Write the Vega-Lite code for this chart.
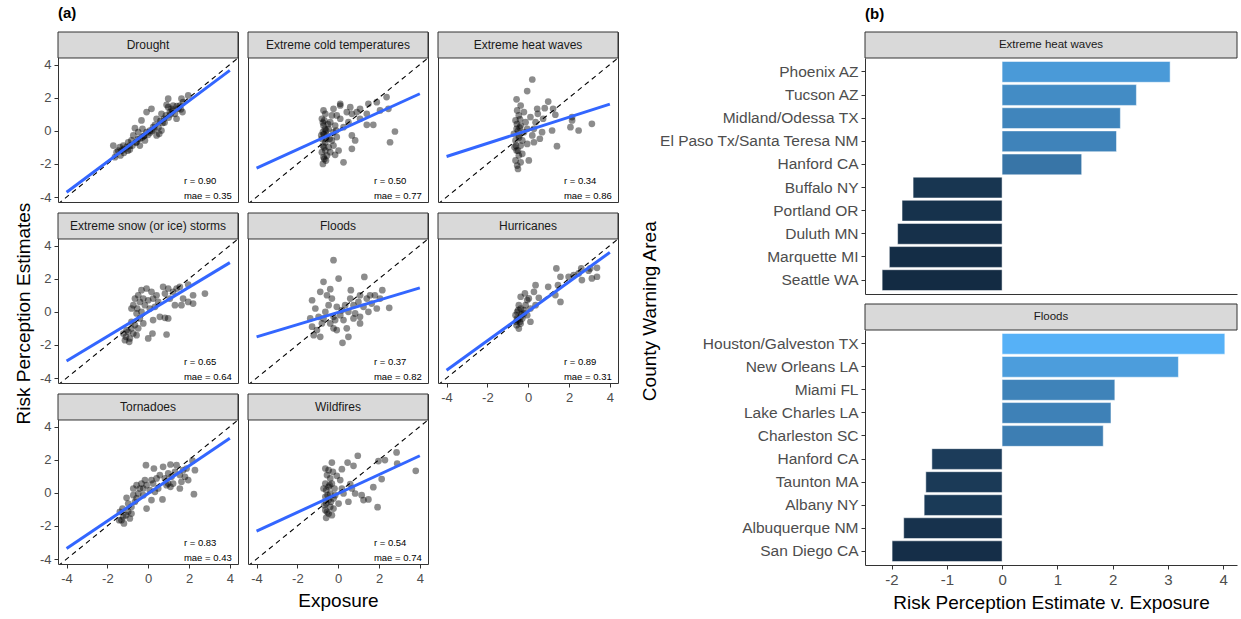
{
"$schema": "https://vega.github.io/schema/vega-lite/v6.json",
"padding": {"left": 13, "top": 6, "right": 0, "bottom": 5},
"config": {
 "font": "Liberation Sans",
 "view": {"stroke": "#333333", "strokeWidth": 1},
 "axis": {"labelFont": "Liberation Sans", "labelFontSize": 13, "labelColor": "#4d4d4d", "tickColor": "#333333", "tickSize": 4, "grid": false, "domain": false, "titleFont": "Liberation Sans", "titleFontSize": 19, "titleFontWeight": "normal", "titleColor": "#000000", "titlePadding": 6},
 "axisX": {"labelPadding": 4},
 "axisY": {"labelPadding": 3},
 "title": {"fontSize": 15, "fontWeight": "bold", "anchor": "start", "frame": "group", "offset": 10, "color": "#000000", "font": "Liberation Sans"}
},
"datasets": {
 "diag": [{"d": -4.42}, {"d": 4.4}],
 "stats": [
  {"p": "Drought", "r": "r = 0.90", "mae": "mae = 0.35"},
  {"p": "Extreme cold temperatures", "r": "r = 0.50", "mae": "mae = 0.77"},
  {"p": "Extreme heat waves", "r": "r = 0.34", "mae": "mae = 0.86"},
  {"p": "Extreme snow (or ice) storms", "r": "r = 0.65", "mae": "mae = 0.64"},
  {"p": "Floods", "r": "r = 0.37", "mae": "mae = 0.82"},
  {"p": "Hurricanes", "r": "r = 0.89", "mae": "mae = 0.31"},
  {"p": "Tornadoes", "r": "r = 0.83", "mae": "mae = 0.43"},
  {"p": "Wildfires", "r": "r = 0.54", "mae": "mae = 0.74"}
 ],
 "fits": [
  {"p": "Drought", "x": -4, "y": -3.71}, {"p": "Drought", "x": 4, "y": 3.65},
  {"p": "Extreme cold temperatures", "x": -4, "y": -2.26}, {"p": "Extreme cold temperatures", "x": 4, "y": 2.24},
  {"p": "Extreme heat waves", "x": -4, "y": -1.55}, {"p": "Extreme heat waves", "x": 4, "y": 1.61},
  {"p": "Extreme snow (or ice) storms", "x": -4, "y": -2.97}, {"p": "Extreme snow (or ice) storms", "x": 4, "y": 2.97},
  {"p": "Floods", "x": -4, "y": -1.51}, {"p": "Floods", "x": 4, "y": 1.45},
  {"p": "Hurricanes", "x": -4, "y": -3.53}, {"p": "Hurricanes", "x": 4, "y": 3.59},
  {"p": "Tornadoes", "x": -4, "y": -3.37}, {"p": "Tornadoes", "x": 4, "y": 3.29},
  {"p": "Wildfires", "x": -4, "y": -2.32}, {"p": "Wildfires", "x": 4, "y": 2.24}
 ],
 "pts": [
  {"p":"Drought","x":-1.71,"y":-0.89},{"p":"Drought","x":-1.63,"y":-1.59},{"p":"Drought","x":-1.36,"y":-1.49},{"p":"Drought","x":-1.47,"y":-1.19},{"p":"Drought","x":-1.19,"y":-1.33},{"p":"Drought","x":-1.06,"y":-0.99},{"p":"Drought","x":-0.9,"y":-1.13},{"p":"Drought","x":-0.77,"y":-0.89},{"p":"Drought","x":-0.65,"y":0.16},{"p":"Drought","x":-0.57,"y":-0.69},{"p":"Drought","x":-0.41,"y":-0.48},{"p":"Drought","x":-0.33,"y":0.63},{"p":"Drought","x":-0.21,"y":-0.32},{"p":"Drought","x":-0.08,"y":-0.08},{"p":"Drought","x":0.0,"y":-0.24},{"p":"Drought","x":0.08,"y":0.02},{"p":"Drought","x":0.24,"y":0.22},{"p":"Drought","x":0.33,"y":0.36},{"p":"Drought","x":0.41,"y":-0.28},{"p":"Drought","x":0.54,"y":-0.18},{"p":"Drought","x":0.65,"y":0.02},{"p":"Drought","x":0.7,"y":0.48},{"p":"Drought","x":0.77,"y":0.73},{"p":"Drought","x":0.87,"y":0.93},{"p":"Drought","x":0.98,"y":1.94},{"p":"Drought","x":0.98,"y":1.43},{"p":"Drought","x":1.06,"y":1.13},{"p":"Drought","x":1.14,"y":1.33},{"p":"Drought","x":1.22,"y":1.53},{"p":"Drought","x":1.31,"y":1.03},{"p":"Drought","x":1.39,"y":0.73},{"p":"Drought","x":1.47,"y":1.33},{"p":"Drought","x":1.55,"y":1.53},{"p":"Drought","x":1.63,"y":1.94},{"p":"Drought","x":1.68,"y":1.13},{"p":"Drought","x":1.71,"y":1.73},{"p":"Drought","x":1.96,"y":2.14},{"p":"Drought","x":-0.08,"y":1.13},{"p":"Drought","x":0.16,"y":1.33},{"p":"Drought","x":-0.73,"y":-0.28},{"p":"Drought","x":-0.49,"y":-0.08},{"p":"Drought","x":-0.28,"y":0.12},{"p":"Drought","x":0.41,"y":0.73},{"p":"Drought","x":0.65,"y":1.03},{"p":"Drought","x":0.9,"y":1.57},{"p":"Drought","x":-0.82,"y":-0.58},{"p":"Drought","x":-0.98,"y":-0.69},{"p":"Drought","x":-1.22,"y":-0.89},{"p":"Drought","x":-1.39,"y":-0.99},{"p":"Drought","x":-1.55,"y":-1.29},{"p":"Drought","x":-0.41,"y":-0.89},{"p":"Drought","x":-0.16,"y":-0.58},{"p":"Drought","x":-1.2,"y":-1.1},{"p":"Drought","x":-1.0,"y":-1.2},{"p":"Drought","x":-0.6,"y":-0.7},{"p":"Drought","x":-0.5,"y":-0.5},{"p":"Drought","x":-0.3,"y":-0.4},{"p":"Drought","x":0.1,"y":-0.1},{"p":"Drought","x":0.2,"y":0.0},{"p":"Drought","x":0.5,"y":0.2},{"p":"Drought","x":0.8,"y":0.5},{"p":"Drought","x":1.0,"y":0.8},{"p":"Drought","x":1.2,"y":1.2},{"p":"Drought","x":1.4,"y":1.5},{"p":"Drought","x":-0.9,"y":-0.9},{"p":"Drought","x":-1.3,"y":-1.2},{"p":"Drought","x":0.6,"y":0.6},{"p":"Drought","x":0.3,"y":0.1},{"p":"Drought","x":-0.2,"y":-0.3},{"p":"Drought","x":1.6,"y":1.3},{"p":"Drought","x":1.1,"y":1.0},
  {"p":"Extreme cold temperatures","x":0.1,"y":1.53},{"p":"Extreme cold temperatures","x":0.59,"y":1.43},{"p":"Extreme cold temperatures","x":0.67,"y":1.03},{"p":"Extreme cold temperatures","x":0.91,"y":1.13},{"p":"Extreme cold temperatures","x":1.07,"y":0.73},{"p":"Extreme cold temperatures","x":1.4,"y":1.03},{"p":"Extreme cold temperatures","x":1.48,"y":1.63},{"p":"Extreme cold temperatures","x":1.89,"y":1.73},{"p":"Extreme cold temperatures","x":2.37,"y":2.04},{"p":"Extreme cold temperatures","x":2.46,"y":1.33},{"p":"Extreme cold temperatures","x":2.05,"y":1.23},{"p":"Extreme cold temperatures","x":1.4,"y":0.36},{"p":"Extreme cold temperatures","x":1.72,"y":0.36},{"p":"Extreme cold temperatures","x":2.78,"y":-0.04},{"p":"Extreme cold temperatures","x":2.54,"y":-0.69},{"p":"Extreme cold temperatures","x":0.67,"y":-0.28},{"p":"Extreme cold temperatures","x":0.83,"y":-0.58},{"p":"Extreme cold temperatures","x":0.67,"y":-1.09},{"p":"Extreme cold temperatures","x":0.02,"y":-1.19},{"p":"Extreme cold temperatures","x":0.26,"y":-1.9},{"p":"Extreme cold temperatures","x":-0.15,"y":-1.45},{"p":"Extreme cold temperatures","x":0.5,"y":0.52},{"p":"Extreme cold temperatures","x":1.07,"y":1.33},{"p":"Extreme cold temperatures","x":0.42,"y":1.13},{"p":"Extreme cold temperatures","x":0.1,"y":1.63},{"p":"Extreme cold temperatures","x":-0.72,"y":1.23},{"p":"Extreme cold temperatures","x":-0.63,"y":1.03},{"p":"Extreme cold temperatures","x":-0.8,"y":0.73},{"p":"Extreme cold temperatures","x":-0.72,"y":0.32},{"p":"Extreme cold temperatures","x":-0.75,"y":-0.08},{"p":"Extreme cold temperatures","x":-0.8,"y":-0.48},{"p":"Extreme cold temperatures","x":-0.75,"y":-0.89},{"p":"Extreme cold temperatures","x":-0.8,"y":-1.29},{"p":"Extreme cold temperatures","x":-0.72,"y":-1.59},{"p":"Extreme cold temperatures","x":-0.75,"y":-2.0},{"p":"Extreme cold temperatures","x":-0.63,"y":-0.69},{"p":"Extreme cold temperatures","x":-0.55,"y":-0.28},{"p":"Extreme cold temperatures","x":-0.47,"y":0.12},{"p":"Extreme cold temperatures","x":-0.39,"y":0.52},{"p":"Extreme cold temperatures","x":-0.31,"y":0.93},{"p":"Extreme cold temperatures","x":-0.23,"y":1.33},{"p":"Extreme cold temperatures","x":-0.07,"y":0.93},{"p":"Extreme cold temperatures","x":-0.15,"y":0.32},{"p":"Extreme cold temperatures","x":-0.23,"y":-0.08},{"p":"Extreme cold temperatures","x":-0.07,"y":-0.38},{"p":"Extreme cold temperatures","x":-0.31,"y":-0.58},{"p":"Extreme cold temperatures","x":-0.47,"y":-0.99},{"p":"Extreme cold temperatures","x":-0.39,"y":-1.29},{"p":"Extreme cold temperatures","x":-0.63,"y":-1.19},{"p":"Extreme cold temperatures","x":-0.55,"y":-1.49},{"p":"Extreme cold temperatures","x":0.1,"y":0.73},{"p":"Extreme cold temperatures","x":0.26,"y":0.22},{"p":"Extreme cold temperatures","x":-0.23,"y":-0.89},{"p":"Extreme cold temperatures","x":-0.68,"y":0.63},{"p":"Extreme cold temperatures","x":-0.59,"y":0.02},{"p":"Extreme cold temperatures","x":-0.83,"y":-0.28},{"p":"Extreme cold temperatures","x":-0.42,"y":-0.48},{"p":"Extreme cold temperatures","x":-0.1,"y":0.02},{"p":"Extreme cold temperatures","x":-0.7,"y":-0.2},{"p":"Extreme cold temperatures","x":-0.65,"y":0.1},{"p":"Extreme cold temperatures","x":-0.6,"y":-0.5},{"p":"Extreme cold temperatures","x":-0.7,"y":-1.0},{"p":"Extreme cold temperatures","x":-0.5,"y":0.4},{"p":"Extreme cold temperatures","x":-0.75,"y":0.5},{"p":"Extreme cold temperatures","x":-0.68,"y":-1.7},{"p":"Extreme cold temperatures","x":-0.6,"y":-1.8},
  {"p":"Extreme heat waves","x":0.2,"y":3.1},{"p":"Extreme heat waves","x":-0.05,"y":2.4},{"p":"Extreme heat waves","x":-0.57,"y":1.9},{"p":"Extreme heat waves","x":0.44,"y":1.33},{"p":"Extreme heat waves","x":0.98,"y":1.77},{"p":"Extreme heat waves","x":0.81,"y":1.37},{"p":"Extreme heat waves","x":1.22,"y":1.33},{"p":"Extreme heat waves","x":1.33,"y":0.97},{"p":"Extreme heat waves","x":0.73,"y":0.73},{"p":"Extreme heat waves","x":0.36,"y":0.52},{"p":"Extreme heat waves","x":0.57,"y":-0.48},{"p":"Extreme heat waves","x":0.28,"y":-0.69},{"p":"Extreme heat waves","x":-0.05,"y":-0.79},{"p":"Extreme heat waves","x":1.41,"y":-0.93},{"p":"Extreme heat waves","x":1.17,"y":0.02},{"p":"Extreme heat waves","x":2.15,"y":0.63},{"p":"Extreme heat waves","x":2.07,"y":0.22},{"p":"Extreme heat waves","x":2.47,"y":0.02},{"p":"Extreme heat waves","x":3.12,"y":0.42},{"p":"Extreme heat waves","x":2.15,"y":0.83},{"p":"Extreme heat waves","x":0.03,"y":-1.79},{"p":"Extreme heat waves","x":-0.5,"y":-2.3},{"p":"Extreme heat waves","x":-0.54,"y":-2.1},{"p":"Extreme heat waves","x":-0.62,"y":-1.79},{"p":"Extreme heat waves","x":-0.46,"y":-1.49},{"p":"Extreme heat waves","x":-0.57,"y":-1.19},{"p":"Extreme heat waves","x":-0.37,"y":-0.89},{"p":"Extreme heat waves","x":-0.62,"y":-0.58},{"p":"Extreme heat waves","x":-0.46,"y":-0.28},{"p":"Extreme heat waves","x":-0.57,"y":0.12},{"p":"Extreme heat waves","x":-0.37,"y":0.32},{"p":"Extreme heat waves","x":-0.62,"y":0.63},{"p":"Extreme heat waves","x":-0.46,"y":0.93},{"p":"Extreme heat waves","x":-0.54,"y":1.23},{"p":"Extreme heat waves","x":-0.37,"y":1.53},{"p":"Extreme heat waves","x":-0.21,"y":1.13},{"p":"Extreme heat waves","x":-0.13,"y":0.52},{"p":"Extreme heat waves","x":-0.21,"y":-0.08},{"p":"Extreme heat waves","x":-0.05,"y":0.12},{"p":"Extreme heat waves","x":0.11,"y":0.83},{"p":"Extreme heat waves","x":0.2,"y":-0.28},{"p":"Extreme heat waves","x":-0.29,"y":-0.58},{"p":"Extreme heat waves","x":-0.7,"y":-0.18},{"p":"Extreme heat waves","x":-0.67,"y":-0.99},{"p":"Extreme heat waves","x":-0.29,"y":-1.39},{"p":"Extreme heat waves","x":-0.37,"y":-1.9},{"p":"Extreme heat waves","x":0.28,"y":0.12},{"p":"Extreme heat waves","x":0.47,"y":1.03},{"p":"Extreme heat waves","x":0.68,"y":-0.08},{"p":"Extreme heat waves","x":-0.5,"y":0.0},{"p":"Extreme heat waves","x":-0.45,"y":-0.4},{"p":"Extreme heat waves","x":-0.55,"y":0.4},{"p":"Extreme heat waves","x":-0.4,"y":0.7},{"p":"Extreme heat waves","x":-0.6,"y":-0.9},{"p":"Extreme heat waves","x":-0.5,"y":-1.2},{"p":"Extreme heat waves","x":-0.42,"y":0.2},
  {"p":"Extreme snow (or ice) storms","x":-0.49,"y":1.0},{"p":"Extreme snow (or ice) storms","x":-0.33,"y":1.31},{"p":"Extreme snow (or ice) storms","x":-0.08,"y":1.41},{"p":"Extreme snow (or ice) storms","x":0.16,"y":1.21},{"p":"Extreme snow (or ice) storms","x":0.24,"y":0.8},{"p":"Extreme snow (or ice) storms","x":0.41,"y":1.0},{"p":"Extreme snow (or ice) storms","x":0.73,"y":1.51},{"p":"Extreme snow (or ice) storms","x":0.98,"y":1.41},{"p":"Extreme snow (or ice) storms","x":1.22,"y":1.21},{"p":"Extreme snow (or ice) storms","x":1.39,"y":1.41},{"p":"Extreme snow (or ice) storms","x":1.31,"y":0.4},{"p":"Extreme snow (or ice) storms","x":1.63,"y":0.4},{"p":"Extreme snow (or ice) storms","x":1.71,"y":0.8},{"p":"Extreme snow (or ice) storms","x":1.96,"y":0.6},{"p":"Extreme snow (or ice) storms","x":2.2,"y":1.0},{"p":"Extreme snow (or ice) storms","x":2.2,"y":0.5},{"p":"Extreme snow (or ice) storms","x":2.78,"y":1.1},{"p":"Extreme snow (or ice) storms","x":1.96,"y":1.65},{"p":"Extreme snow (or ice) storms","x":0.57,"y":-0.3},{"p":"Extreme snow (or ice) storms","x":0.82,"y":-0.36},{"p":"Extreme snow (or ice) storms","x":0.98,"y":-0.4},{"p":"Extreme snow (or ice) storms","x":0.9,"y":-1.37},{"p":"Extreme snow (or ice) storms","x":0.24,"y":-0.5},{"p":"Extreme snow (or ice) storms","x":0.21,"y":-1.31},{"p":"Extreme snow (or ice) storms","x":0.0,"y":-1.61},{"p":"Extreme snow (or ice) storms","x":-0.82,"y":0.2},{"p":"Extreme snow (or ice) storms","x":-0.73,"y":0.4},{"p":"Extreme snow (or ice) storms","x":-0.57,"y":-0.1},{"p":"Extreme snow (or ice) storms","x":-0.41,"y":-0.4},{"p":"Extreme snow (or ice) storms","x":-0.65,"y":-0.8},{"p":"Extreme snow (or ice) storms","x":-0.82,"y":-1.0},{"p":"Extreme snow (or ice) storms","x":-0.98,"y":-1.21},{"p":"Extreme snow (or ice) storms","x":-1.09,"y":-1.51},{"p":"Extreme snow (or ice) storms","x":-1.14,"y":-1.71},{"p":"Extreme snow (or ice) storms","x":-0.9,"y":-1.61},{"p":"Extreme snow (or ice) storms","x":-0.73,"y":-1.31},{"p":"Extreme snow (or ice) storms","x":-0.57,"y":-1.41},{"p":"Extreme snow (or ice) storms","x":-1.06,"y":-1.1},{"p":"Extreme snow (or ice) storms","x":-0.49,"y":-1.0},{"p":"Extreme snow (or ice) storms","x":-0.33,"y":0.0},{"p":"Extreme snow (or ice) storms","x":-0.16,"y":0.4},{"p":"Extreme snow (or ice) storms","x":-0.24,"y":0.8},{"p":"Extreme snow (or ice) storms","x":0.0,"y":0.7},{"p":"Extreme snow (or ice) storms","x":-0.41,"y":0.6},{"p":"Extreme snow (or ice) storms","x":-0.65,"y":0.8},{"p":"Extreme snow (or ice) storms","x":-0.54,"y":0.2},{"p":"Extreme snow (or ice) storms","x":0.08,"y":0.2},{"p":"Extreme snow (or ice) storms","x":0.33,"y":0.3},{"p":"Extreme snow (or ice) storms","x":0.49,"y":0.6},{"p":"Extreme snow (or ice) storms","x":1.55,"y":1.51},{"p":"Extreme snow (or ice) storms","x":0.82,"y":1.1},{"p":"Extreme snow (or ice) storms","x":1.06,"y":0.8},{"p":"Extreme snow (or ice) storms","x":-1.22,"y":-1.31},{"p":"Extreme snow (or ice) storms","x":-0.93,"y":-1.81},{"p":"Extreme snow (or ice) storms","x":-0.82,"y":-0.6},{"p":"Extreme snow (or ice) storms","x":-0.24,"y":-0.7},
  {"p":"Floods","x":-0.23,"y":3.12},{"p":"Floods","x":-0.72,"y":1.81},{"p":"Floods","x":0.02,"y":2.01},{"p":"Floods","x":1.28,"y":2.11},{"p":"Floods","x":-0.39,"y":1.37},{"p":"Floods","x":0.62,"y":1.31},{"p":"Floods","x":0.59,"y":0.8},{"p":"Floods","x":1.07,"y":1.0},{"p":"Floods","x":1.56,"y":1.0},{"p":"Floods","x":2.16,"y":1.31},{"p":"Floods","x":2.5,"y":0.24},{"p":"Floods","x":2.05,"y":0.8},{"p":"Floods","x":1.89,"y":0.2},{"p":"Floods","x":1.48,"y":0.0},{"p":"Floods","x":1.07,"y":-0.7},{"p":"Floods","x":0.42,"y":-1.0},{"p":"Floods","x":0.5,"y":-1.51},{"p":"Floods","x":0.21,"y":-1.87},{"p":"Floods","x":-0.23,"y":-1.0},{"p":"Floods","x":-0.88,"y":-1.51},{"p":"Floods","x":-1.2,"y":-1.41},{"p":"Floods","x":-1.28,"y":0.7},{"p":"Floods","x":-1.12,"y":0.2},{"p":"Floods","x":-1.37,"y":-0.4},{"p":"Floods","x":-1.28,"y":-0.9},{"p":"Floods","x":-0.96,"y":-0.3},{"p":"Floods","x":-0.8,"y":-0.7},{"p":"Floods","x":-0.63,"y":0.0},{"p":"Floods","x":-0.47,"y":0.4},{"p":"Floods","x":-0.31,"y":0.8},{"p":"Floods","x":-0.07,"y":0.3},{"p":"Floods","x":0.1,"y":-0.2},{"p":"Floods","x":0.26,"y":-0.5},{"p":"Floods","x":0.5,"y":0.0},{"p":"Floods","x":0.75,"y":0.4},{"p":"Floods","x":0.99,"y":0.6},{"p":"Floods","x":1.24,"y":0.3},{"p":"Floods","x":1.4,"y":0.8},{"p":"Floods","x":1.64,"y":0.5},{"p":"Floods","x":1.8,"y":1.0},{"p":"Floods","x":-0.88,"y":1.21},{"p":"Floods","x":-0.55,"y":1.0},{"p":"Floods","x":-0.23,"y":-0.3},{"p":"Floods","x":-0.39,"y":-0.7},{"p":"Floods","x":-0.07,"y":-1.1},{"p":"Floods","x":-1.04,"y":-1.1},{"p":"Floods","x":0.75,"y":-0.4},{"p":"Floods","x":0.34,"y":0.4},{"p":"Floods","x":0.18,"y":0.1},{"p":"Floods","x":-0.72,"y":-0.4},{"p":"Floods","x":0.83,"y":-0.1},{"p":"Floods","x":1.07,"y":-0.3},{"p":"Floods","x":-0.15,"y":-0.5},
  {"p":"Hurricanes","x":0.36,"y":1.61},{"p":"Hurricanes","x":0.28,"y":1.21},{"p":"Hurricanes","x":-0.37,"y":0.91},{"p":"Hurricanes","x":-0.16,"y":1.11},{"p":"Hurricanes","x":0.03,"y":0.81},{"p":"Hurricanes","x":0.52,"y":0.85},{"p":"Hurricanes","x":0.98,"y":1.51},{"p":"Hurricanes","x":1.46,"y":1.61},{"p":"Hurricanes","x":1.33,"y":1.01},{"p":"Hurricanes","x":1.58,"y":0.6},{"p":"Hurricanes","x":1.38,"y":2.62},{"p":"Hurricanes","x":1.58,"y":2.12},{"p":"Hurricanes","x":1.98,"y":2.12},{"p":"Hurricanes","x":2.23,"y":2.22},{"p":"Hurricanes","x":2.47,"y":2.32},{"p":"Hurricanes","x":2.6,"y":2.62},{"p":"Hurricanes","x":2.96,"y":2.48},{"p":"Hurricanes","x":3.04,"y":2.62},{"p":"Hurricanes","x":3.37,"y":2.66},{"p":"Hurricanes","x":3.37,"y":2.12},{"p":"Hurricanes","x":3.12,"y":2.02},{"p":"Hurricanes","x":2.63,"y":1.92},{"p":"Hurricanes","x":0.11,"y":-0.6},{"p":"Hurricanes","x":-0.05,"y":-0.2},{"p":"Hurricanes","x":-0.21,"y":0.1},{"p":"Hurricanes","x":-0.46,"y":0.4},{"p":"Hurricanes","x":-0.54,"y":0.0},{"p":"Hurricanes","x":-0.37,"y":-0.3},{"p":"Hurricanes","x":-0.5,"y":-0.5},{"p":"Hurricanes","x":-0.57,"y":-0.81},{"p":"Hurricanes","x":-0.46,"y":-1.01},{"p":"Hurricanes","x":-0.37,"y":-0.71},{"p":"Hurricanes","x":-0.29,"y":-0.4},{"p":"Hurricanes","x":-0.62,"y":-0.2},{"p":"Hurricanes","x":-0.21,"y":-0.1},{"p":"Hurricanes","x":-0.37,"y":0.2},{"p":"Hurricanes","x":-0.13,"y":0.4},{"p":"Hurricanes","x":-0.05,"y":0.71},{"p":"Hurricanes","x":0.11,"y":0.2},{"p":"Hurricanes","x":0.36,"y":0.4},{"p":"Hurricanes","x":-0.54,"y":-0.4},{"p":"Hurricanes","x":-0.41,"y":-0.6},{"p":"Hurricanes","x":-0.59,"y":-0.6},{"p":"Hurricanes","x":-0.33,"y":-0.16},{"p":"Hurricanes","x":-0.49,"y":0.1},
  {"p":"Tornadoes","x":-0.11,"y":1.67},{"p":"Tornadoes","x":0.28,"y":1.47},{"p":"Tornadoes","x":0.73,"y":1.57},{"p":"Tornadoes","x":1.09,"y":1.71},{"p":"Tornadoes","x":1.39,"y":1.67},{"p":"Tornadoes","x":2.17,"y":1.94},{"p":"Tornadoes","x":2.29,"y":1.37},{"p":"Tornadoes","x":1.96,"y":0.77},{"p":"Tornadoes","x":2.24,"y":-0.08},{"p":"Tornadoes","x":1.55,"y":0.26},{"p":"Tornadoes","x":1.09,"y":0.36},{"p":"Tornadoes","x":0.7,"y":-0.4},{"p":"Tornadoes","x":0.16,"y":-0.44},{"p":"Tornadoes","x":-0.08,"y":-0.95},{"p":"Tornadoes","x":-0.57,"y":-0.34},{"p":"Tornadoes","x":-0.73,"y":-0.14},{"p":"Tornadoes","x":-1.06,"y":-0.3},{"p":"Tornadoes","x":-1.26,"y":-0.95},{"p":"Tornadoes","x":-1.39,"y":-1.15},{"p":"Tornadoes","x":-1.22,"y":-1.45},{"p":"Tornadoes","x":-1.19,"y":-1.85},{"p":"Tornadoes","x":-1.42,"y":-1.65},{"p":"Tornadoes","x":-0.98,"y":-1.15},{"p":"Tornadoes","x":-0.9,"y":-1.55},{"p":"Tornadoes","x":-0.82,"y":-0.85},{"p":"Tornadoes","x":-0.65,"y":-0.54},{"p":"Tornadoes","x":-0.41,"y":0.26},{"p":"Tornadoes","x":-0.49,"y":-0.04},{"p":"Tornadoes","x":-0.24,"y":0.26},{"p":"Tornadoes","x":-0.08,"y":0.46},{"p":"Tornadoes","x":0.08,"y":0.16},{"p":"Tornadoes","x":0.24,"y":0.56},{"p":"Tornadoes","x":0.41,"y":0.87},{"p":"Tornadoes","x":0.57,"y":1.07},{"p":"Tornadoes","x":0.82,"y":0.87},{"p":"Tornadoes","x":0.98,"y":1.17},{"p":"Tornadoes","x":1.14,"y":0.97},{"p":"Tornadoes","x":1.31,"y":1.27},{"p":"Tornadoes","x":1.55,"y":1.07},{"p":"Tornadoes","x":1.71,"y":1.37},{"p":"Tornadoes","x":1.88,"y":1.47},{"p":"Tornadoes","x":1.8,"y":0.97},{"p":"Tornadoes","x":1.22,"y":0.56},{"p":"Tornadoes","x":0.9,"y":0.46},{"p":"Tornadoes","x":0.49,"y":0.26},{"p":"Tornadoes","x":0.16,"y":0.77},{"p":"Tornadoes","x":-0.16,"y":0.77},{"p":"Tornadoes","x":-0.33,"y":0.56},{"p":"Tornadoes","x":-0.73,"y":0.26},{"p":"Tornadoes","x":-0.57,"y":0.46},{"p":"Tornadoes","x":-0.98,"y":-0.65},{"p":"Tornadoes","x":-1.31,"y":-1.65},{"p":"Tornadoes","x":-1.09,"y":-1.35},{"p":"Tornadoes","x":-0.82,"y":-1.25},{"p":"Tornadoes","x":-0.24,"y":-0.14},{"p":"Tornadoes","x":0.33,"y":0.06},{"p":"Tornadoes","x":0.98,"y":0.56},{"p":"Tornadoes","x":1.63,"y":0.67},
  {"p":"Wildfires","x":-0.31,"y":1.83},{"p":"Wildfires","x":0.46,"y":1.83},{"p":"Wildfires","x":0.75,"y":1.63},{"p":"Wildfires","x":0.96,"y":2.24},{"p":"Wildfires","x":1.97,"y":1.92},{"p":"Wildfires","x":2.29,"y":1.98},{"p":"Wildfires","x":2.86,"y":2.44},{"p":"Wildfires","x":2.89,"y":1.77},{"p":"Wildfires","x":3.8,"y":1.33},{"p":"Wildfires","x":2.13,"y":0.83},{"p":"Wildfires","x":1.72,"y":0.34},{"p":"Wildfires","x":1.93,"y":-0.87},{"p":"Wildfires","x":1.48,"y":-0.4},{"p":"Wildfires","x":1.15,"y":-0.14},{"p":"Wildfires","x":0.83,"y":-0.04},{"p":"Wildfires","x":1.24,"y":-0.44},{"p":"Wildfires","x":0.5,"y":-0.54},{"p":"Wildfires","x":0.67,"y":0.26},{"p":"Wildfires","x":0.59,"y":0.52},{"p":"Wildfires","x":0.18,"y":0.26},{"p":"Wildfires","x":0.1,"y":0.77},{"p":"Wildfires","x":0.18,"y":1.43},{"p":"Wildfires","x":-0.07,"y":1.03},{"p":"Wildfires","x":0.02,"y":-0.65},{"p":"Wildfires","x":-0.63,"y":1.47},{"p":"Wildfires","x":-0.47,"y":1.37},{"p":"Wildfires","x":-0.55,"y":1.07},{"p":"Wildfires","x":-0.39,"y":0.87},{"p":"Wildfires","x":-0.63,"y":0.56},{"p":"Wildfires","x":-0.47,"y":0.36},{"p":"Wildfires","x":-0.59,"y":0.16},{"p":"Wildfires","x":-0.39,"y":-0.04},{"p":"Wildfires","x":-0.63,"y":-0.24},{"p":"Wildfires","x":-0.47,"y":-0.44},{"p":"Wildfires","x":-0.59,"y":-0.65},{"p":"Wildfires","x":-0.39,"y":-0.85},{"p":"Wildfires","x":-0.63,"y":-1.05},{"p":"Wildfires","x":-0.47,"y":-1.25},{"p":"Wildfires","x":-0.59,"y":-1.51},{"p":"Wildfires","x":-0.31,"y":-1.35},{"p":"Wildfires","x":-0.23,"y":-0.95},{"p":"Wildfires","x":-0.23,"y":-0.34},{"p":"Wildfires","x":-0.18,"y":0.26},{"p":"Wildfires","x":-0.31,"y":0.56},{"p":"Wildfires","x":-0.72,"y":0.26},{"p":"Wildfires","x":-0.68,"y":-0.75},{"p":"Wildfires","x":-0.52,"y":-0.14},{"p":"Wildfires","x":-0.42,"y":0.46},{"p":"Wildfires","x":-0.36,"y":-0.54},{"p":"Wildfires","x":-0.55,"y":-1.15},{"p":"Wildfires","x":-0.26,"y":1.27},{"p":"Wildfires","x":-0.15,"y":-0.14},{"p":"Wildfires","x":0.26,"y":-0.04}
 ],
 "hazards": [{"hazard": "Extreme heat waves"}, {"hazard": "Floods"}],
 "bars": [
  {"hazard": "Extreme heat waves", "cwa": "Phoenix AZ", "value": 3.04},
  {"hazard": "Extreme heat waves", "cwa": "Tucson AZ", "value": 2.43},
  {"hazard": "Extreme heat waves", "cwa": "Midland/Odessa TX", "value": 2.14},
  {"hazard": "Extreme heat waves", "cwa": "El Paso Tx/Santa Teresa NM", "value": 2.07},
  {"hazard": "Extreme heat waves", "cwa": "Hanford CA", "value": 1.44},
  {"hazard": "Extreme heat waves", "cwa": "Buffalo NY", "value": -1.61},
  {"hazard": "Extreme heat waves", "cwa": "Portland OR", "value": -1.81},
  {"hazard": "Extreme heat waves", "cwa": "Duluth MN", "value": -1.89},
  {"hazard": "Extreme heat waves", "cwa": "Marquette MI", "value": -2.04},
  {"hazard": "Extreme heat waves", "cwa": "Seattle WA", "value": -2.17},
  {"hazard": "Floods", "cwa": "Houston/Galveston TX", "value": 4.03},
  {"hazard": "Floods", "cwa": "New Orleans LA", "value": 3.19},
  {"hazard": "Floods", "cwa": "Miami FL", "value": 2.04},
  {"hazard": "Floods", "cwa": "Lake Charles LA", "value": 1.97},
  {"hazard": "Floods", "cwa": "Charleston SC", "value": 1.83},
  {"hazard": "Floods", "cwa": "Hanford CA", "value": -1.27},
  {"hazard": "Floods", "cwa": "Taunton MA", "value": -1.38},
  {"hazard": "Floods", "cwa": "Albany NY", "value": -1.41},
  {"hazard": "Floods", "cwa": "Albuquerque NM", "value": -1.78},
  {"hazard": "Floods", "cwa": "San Diego CA", "value": -1.99}
 ]
},
"spacing": 21,
"hconcat": [
 {
  "title": {"text": "(a)"},
  "columns": 3,
  "spacing": {"row": 11, "column": 10},
  "bounds": "flush",
  "resolve": {"scale": {"x": "independent", "y": "independent"}},
  "concat": [
   {"width": 180, "height": 170, "layer": [
    {"data": {"name": "stats"}, "transform": [{"filter": {"field": "p", "equal": "Drought"}}], "mark": {"type": "rect", "fill": "#d9d9d9", "stroke": "#333333", "strokeWidth": 1}, "encoding": {"x": {"datum": -4.42, "axis": null}, "x2": {"datum": 4.4}, "y": {"datum": 4.4, "axis": {"values": [-4, -2, 0, 2, 4], "title": null, "labelExpr": "toString(datum.value)"}}, "y2": {"datum": 5.97}}},
    {"data": {"name": "stats"}, "transform": [{"filter": {"field": "p", "equal": "Drought"}}], "mark": {"type": "text", "fontSize": 12, "color": "#1a1a1a"}, "encoding": {"x": {"datum": -0.01, "axis": null}, "y": {"datum": 5.19, "axis": {"values": [-4, -2, 0, 2, 4], "title": null, "labelExpr": "toString(datum.value)"}}, "text": {"field": "p"}}},
    {"data": {"name": "pts"}, "transform": [{"filter": {"field": "p", "equal": "Drought"}}], "mark": {"type": "circle", "size": 45, "color": "#000000", "opacity": 0.45}, "encoding": {"x": {"field": "x", "type": "quantitative", "scale": {"domain": [-4.42, 4.4], "nice": false, "zero": false}, "axis": null}, "y": {"field": "y", "type": "quantitative", "scale": {"domain": [-4.3, 5.97], "nice": false, "zero": false}, "axis": {"values": [-4, -2, 0, 2, 4], "title": null, "labelExpr": "toString(datum.value)"}}}},
    {"data": {"name": "diag"}, "mark": {"type": "line", "color": "#000000", "strokeDash": [5, 4], "strokeWidth": 1.1, "clip": true}, "encoding": {"x": {"field": "d", "type": "quantitative", "axis": null}, "y": {"field": "d", "type": "quantitative", "axis": {"values": [-4, -2, 0, 2, 4], "title": null, "labelExpr": "toString(datum.value)"}}}},
    {"data": {"name": "fits"}, "transform": [{"filter": {"field": "p", "equal": "Drought"}}], "mark": {"type": "line", "color": "#3366FF", "strokeWidth": 3}, "encoding": {"x": {"field": "x", "type": "quantitative", "axis": null}, "y": {"field": "y", "type": "quantitative", "axis": {"values": [-4, -2, 0, 2, 4], "title": null, "labelExpr": "toString(datum.value)"}}}},
    {"data": {"name": "stats"}, "transform": [{"filter": {"field": "p", "equal": "Drought"}}], "mark": {"type": "text", "fontSize": 9.5, "align": "left", "color": "#000000"}, "encoding": {"x": {"datum": 1.75, "axis": null}, "y": {"datum": -3.06, "axis": {"values": [-4, -2, 0, 2, 4], "title": null, "labelExpr": "toString(datum.value)"}}, "text": {"field": "r"}}},
    {"data": {"name": "stats"}, "transform": [{"filter": {"field": "p", "equal": "Drought"}}], "mark": {"type": "text", "fontSize": 9.5, "align": "left", "color": "#000000"}, "encoding": {"x": {"datum": 1.75, "axis": null}, "y": {"datum": -3.91, "axis": {"values": [-4, -2, 0, 2, 4], "title": null, "labelExpr": "toString(datum.value)"}}, "text": {"field": "mae"}}}
   ]},
   {"width": 180, "height": 170, "layer": [
    {"data": {"name": "stats"}, "transform": [{"filter": {"field": "p", "equal": "Extreme cold temperatures"}}], "mark": {"type": "rect", "fill": "#d9d9d9", "stroke": "#333333", "strokeWidth": 1}, "encoding": {"x": {"datum": -4.42, "axis": null}, "x2": {"datum": 4.4}, "y": {"datum": 4.4, "axis": null}, "y2": {"datum": 5.97}}},
    {"data": {"name": "stats"}, "transform": [{"filter": {"field": "p", "equal": "Extreme cold temperatures"}}], "mark": {"type": "text", "fontSize": 12, "color": "#1a1a1a"}, "encoding": {"x": {"datum": -0.01, "axis": null}, "y": {"datum": 5.19, "axis": null}, "text": {"field": "p"}}},
    {"data": {"name": "pts"}, "transform": [{"filter": {"field": "p", "equal": "Extreme cold temperatures"}}], "mark": {"type": "circle", "size": 45, "color": "#000000", "opacity": 0.45}, "encoding": {"x": {"field": "x", "type": "quantitative", "scale": {"domain": [-4.42, 4.4], "nice": false, "zero": false}, "axis": null}, "y": {"field": "y", "type": "quantitative", "scale": {"domain": [-4.3, 5.97], "nice": false, "zero": false}, "axis": null}}},
    {"data": {"name": "diag"}, "mark": {"type": "line", "color": "#000000", "strokeDash": [5, 4], "strokeWidth": 1.1, "clip": true}, "encoding": {"x": {"field": "d", "type": "quantitative", "axis": null}, "y": {"field": "d", "type": "quantitative", "axis": null}}},
    {"data": {"name": "fits"}, "transform": [{"filter": {"field": "p", "equal": "Extreme cold temperatures"}}], "mark": {"type": "line", "color": "#3366FF", "strokeWidth": 3}, "encoding": {"x": {"field": "x", "type": "quantitative", "axis": null}, "y": {"field": "y", "type": "quantitative", "axis": null}}},
    {"data": {"name": "stats"}, "transform": [{"filter": {"field": "p", "equal": "Extreme cold temperatures"}}], "mark": {"type": "text", "fontSize": 9.5, "align": "left", "color": "#000000"}, "encoding": {"x": {"datum": 1.75, "axis": null}, "y": {"datum": -3.06, "axis": null}, "text": {"field": "r"}}},
    {"data": {"name": "stats"}, "transform": [{"filter": {"field": "p", "equal": "Extreme cold temperatures"}}], "mark": {"type": "text", "fontSize": 9.5, "align": "left", "color": "#000000"}, "encoding": {"x": {"datum": 1.75, "axis": null}, "y": {"datum": -3.91, "axis": null}, "text": {"field": "mae"}}}
   ]},
   {"width": 180, "height": 170, "layer": [
    {"data": {"name": "stats"}, "transform": [{"filter": {"field": "p", "equal": "Extreme heat waves"}}], "mark": {"type": "rect", "fill": "#d9d9d9", "stroke": "#333333", "strokeWidth": 1}, "encoding": {"x": {"datum": -4.42, "axis": null}, "x2": {"datum": 4.4}, "y": {"datum": 4.4, "axis": null}, "y2": {"datum": 5.97}}},
    {"data": {"name": "stats"}, "transform": [{"filter": {"field": "p", "equal": "Extreme heat waves"}}], "mark": {"type": "text", "fontSize": 12, "color": "#1a1a1a"}, "encoding": {"x": {"datum": -0.01, "axis": null}, "y": {"datum": 5.19, "axis": null}, "text": {"field": "p"}}},
    {"data": {"name": "pts"}, "transform": [{"filter": {"field": "p", "equal": "Extreme heat waves"}}], "mark": {"type": "circle", "size": 45, "color": "#000000", "opacity": 0.45}, "encoding": {"x": {"field": "x", "type": "quantitative", "scale": {"domain": [-4.42, 4.4], "nice": false, "zero": false}, "axis": null}, "y": {"field": "y", "type": "quantitative", "scale": {"domain": [-4.3, 5.97], "nice": false, "zero": false}, "axis": null}}},
    {"data": {"name": "diag"}, "mark": {"type": "line", "color": "#000000", "strokeDash": [5, 4], "strokeWidth": 1.1, "clip": true}, "encoding": {"x": {"field": "d", "type": "quantitative", "axis": null}, "y": {"field": "d", "type": "quantitative", "axis": null}}},
    {"data": {"name": "fits"}, "transform": [{"filter": {"field": "p", "equal": "Extreme heat waves"}}], "mark": {"type": "line", "color": "#3366FF", "strokeWidth": 3}, "encoding": {"x": {"field": "x", "type": "quantitative", "axis": null}, "y": {"field": "y", "type": "quantitative", "axis": null}}},
    {"data": {"name": "stats"}, "transform": [{"filter": {"field": "p", "equal": "Extreme heat waves"}}], "mark": {"type": "text", "fontSize": 9.5, "align": "left", "color": "#000000"}, "encoding": {"x": {"datum": 1.75, "axis": null}, "y": {"datum": -3.06, "axis": null}, "text": {"field": "r"}}},
    {"data": {"name": "stats"}, "transform": [{"filter": {"field": "p", "equal": "Extreme heat waves"}}], "mark": {"type": "text", "fontSize": 9.5, "align": "left", "color": "#000000"}, "encoding": {"x": {"datum": 1.75, "axis": null}, "y": {"datum": -3.91, "axis": null}, "text": {"field": "mae"}}}
   ]},
   {"width": 180, "height": 170, "layer": [
    {"data": {"name": "stats"}, "transform": [{"filter": {"field": "p", "equal": "Extreme snow (or ice) storms"}}], "mark": {"type": "rect", "fill": "#d9d9d9", "stroke": "#333333", "strokeWidth": 1}, "encoding": {"x": {"datum": -4.42, "axis": null}, "x2": {"datum": 4.4}, "y": {"datum": 4.4, "axis": {"values": [-4, -2, 0, 2, 4], "title": "Risk Perception Estimates", "titleY": 100, "labelExpr": "toString(datum.value)"}}, "y2": {"datum": 5.97}}},
    {"data": {"name": "stats"}, "transform": [{"filter": {"field": "p", "equal": "Extreme snow (or ice) storms"}}], "mark": {"type": "text", "fontSize": 12, "color": "#1a1a1a"}, "encoding": {"x": {"datum": -0.01, "axis": null}, "y": {"datum": 5.19, "axis": {"values": [-4, -2, 0, 2, 4], "title": "Risk Perception Estimates", "titleY": 100, "labelExpr": "toString(datum.value)"}}, "text": {"field": "p"}}},
    {"data": {"name": "pts"}, "transform": [{"filter": {"field": "p", "equal": "Extreme snow (or ice) storms"}}], "mark": {"type": "circle", "size": 45, "color": "#000000", "opacity": 0.45}, "encoding": {"x": {"field": "x", "type": "quantitative", "scale": {"domain": [-4.42, 4.4], "nice": false, "zero": false}, "axis": null}, "y": {"field": "y", "type": "quantitative", "scale": {"domain": [-4.3, 5.97], "nice": false, "zero": false}, "axis": {"values": [-4, -2, 0, 2, 4], "title": "Risk Perception Estimates", "titleY": 100, "labelExpr": "toString(datum.value)"}}}},
    {"data": {"name": "diag"}, "mark": {"type": "line", "color": "#000000", "strokeDash": [5, 4], "strokeWidth": 1.1, "clip": true}, "encoding": {"x": {"field": "d", "type": "quantitative", "axis": null}, "y": {"field": "d", "type": "quantitative", "axis": {"values": [-4, -2, 0, 2, 4], "title": "Risk Perception Estimates", "titleY": 100, "labelExpr": "toString(datum.value)"}}}},
    {"data": {"name": "fits"}, "transform": [{"filter": {"field": "p", "equal": "Extreme snow (or ice) storms"}}], "mark": {"type": "line", "color": "#3366FF", "strokeWidth": 3}, "encoding": {"x": {"field": "x", "type": "quantitative", "axis": null}, "y": {"field": "y", "type": "quantitative", "axis": {"values": [-4, -2, 0, 2, 4], "title": "Risk Perception Estimates", "titleY": 100, "labelExpr": "toString(datum.value)"}}}},
    {"data": {"name": "stats"}, "transform": [{"filter": {"field": "p", "equal": "Extreme snow (or ice) storms"}}], "mark": {"type": "text", "fontSize": 9.5, "align": "left", "color": "#000000"}, "encoding": {"x": {"datum": 1.75, "axis": null}, "y": {"datum": -3.06, "axis": {"values": [-4, -2, 0, 2, 4], "title": "Risk Perception Estimates", "titleY": 100, "labelExpr": "toString(datum.value)"}}, "text": {"field": "r"}}},
    {"data": {"name": "stats"}, "transform": [{"filter": {"field": "p", "equal": "Extreme snow (or ice) storms"}}], "mark": {"type": "text", "fontSize": 9.5, "align": "left", "color": "#000000"}, "encoding": {"x": {"datum": 1.75, "axis": null}, "y": {"datum": -3.91, "axis": {"values": [-4, -2, 0, 2, 4], "title": "Risk Perception Estimates", "titleY": 100, "labelExpr": "toString(datum.value)"}}, "text": {"field": "mae"}}}
   ]},
   {"width": 180, "height": 170, "layer": [
    {"data": {"name": "stats"}, "transform": [{"filter": {"field": "p", "equal": "Floods"}}], "mark": {"type": "rect", "fill": "#d9d9d9", "stroke": "#333333", "strokeWidth": 1}, "encoding": {"x": {"datum": -4.42, "axis": null}, "x2": {"datum": 4.4}, "y": {"datum": 4.4, "axis": null}, "y2": {"datum": 5.97}}},
    {"data": {"name": "stats"}, "transform": [{"filter": {"field": "p", "equal": "Floods"}}], "mark": {"type": "text", "fontSize": 12, "color": "#1a1a1a"}, "encoding": {"x": {"datum": -0.01, "axis": null}, "y": {"datum": 5.19, "axis": null}, "text": {"field": "p"}}},
    {"data": {"name": "pts"}, "transform": [{"filter": {"field": "p", "equal": "Floods"}}], "mark": {"type": "circle", "size": 45, "color": "#000000", "opacity": 0.45}, "encoding": {"x": {"field": "x", "type": "quantitative", "scale": {"domain": [-4.42, 4.4], "nice": false, "zero": false}, "axis": null}, "y": {"field": "y", "type": "quantitative", "scale": {"domain": [-4.3, 5.97], "nice": false, "zero": false}, "axis": null}}},
    {"data": {"name": "diag"}, "mark": {"type": "line", "color": "#000000", "strokeDash": [5, 4], "strokeWidth": 1.1, "clip": true}, "encoding": {"x": {"field": "d", "type": "quantitative", "axis": null}, "y": {"field": "d", "type": "quantitative", "axis": null}}},
    {"data": {"name": "fits"}, "transform": [{"filter": {"field": "p", "equal": "Floods"}}], "mark": {"type": "line", "color": "#3366FF", "strokeWidth": 3}, "encoding": {"x": {"field": "x", "type": "quantitative", "axis": null}, "y": {"field": "y", "type": "quantitative", "axis": null}}},
    {"data": {"name": "stats"}, "transform": [{"filter": {"field": "p", "equal": "Floods"}}], "mark": {"type": "text", "fontSize": 9.5, "align": "left", "color": "#000000"}, "encoding": {"x": {"datum": 1.75, "axis": null}, "y": {"datum": -3.06, "axis": null}, "text": {"field": "r"}}},
    {"data": {"name": "stats"}, "transform": [{"filter": {"field": "p", "equal": "Floods"}}], "mark": {"type": "text", "fontSize": 9.5, "align": "left", "color": "#000000"}, "encoding": {"x": {"datum": 1.75, "axis": null}, "y": {"datum": -3.91, "axis": null}, "text": {"field": "mae"}}}
   ]},
   {"width": 180, "height": 170, "layer": [
    {"data": {"name": "stats"}, "transform": [{"filter": {"field": "p", "equal": "Hurricanes"}}], "mark": {"type": "rect", "fill": "#d9d9d9", "stroke": "#333333", "strokeWidth": 1}, "encoding": {"x": {"datum": -4.42, "axis": {"values": [-4, -2, 0, 2, 4], "title": null, "labelExpr": "toString(datum.value)"}}, "x2": {"datum": 4.4}, "y": {"datum": 4.4, "axis": null}, "y2": {"datum": 5.97}}},
    {"data": {"name": "stats"}, "transform": [{"filter": {"field": "p", "equal": "Hurricanes"}}], "mark": {"type": "text", "fontSize": 12, "color": "#1a1a1a"}, "encoding": {"x": {"datum": -0.01, "axis": {"values": [-4, -2, 0, 2, 4], "title": null, "labelExpr": "toString(datum.value)"}}, "y": {"datum": 5.19, "axis": null}, "text": {"field": "p"}}},
    {"data": {"name": "pts"}, "transform": [{"filter": {"field": "p", "equal": "Hurricanes"}}], "mark": {"type": "circle", "size": 45, "color": "#000000", "opacity": 0.45}, "encoding": {"x": {"field": "x", "type": "quantitative", "scale": {"domain": [-4.42, 4.4], "nice": false, "zero": false}, "axis": {"values": [-4, -2, 0, 2, 4], "title": null, "labelExpr": "toString(datum.value)"}}, "y": {"field": "y", "type": "quantitative", "scale": {"domain": [-4.3, 5.97], "nice": false, "zero": false}, "axis": null}}},
    {"data": {"name": "diag"}, "mark": {"type": "line", "color": "#000000", "strokeDash": [5, 4], "strokeWidth": 1.1, "clip": true}, "encoding": {"x": {"field": "d", "type": "quantitative", "axis": {"values": [-4, -2, 0, 2, 4], "title": null, "labelExpr": "toString(datum.value)"}}, "y": {"field": "d", "type": "quantitative", "axis": null}}},
    {"data": {"name": "fits"}, "transform": [{"filter": {"field": "p", "equal": "Hurricanes"}}], "mark": {"type": "line", "color": "#3366FF", "strokeWidth": 3}, "encoding": {"x": {"field": "x", "type": "quantitative", "axis": {"values": [-4, -2, 0, 2, 4], "title": null, "labelExpr": "toString(datum.value)"}}, "y": {"field": "y", "type": "quantitative", "axis": null}}},
    {"data": {"name": "stats"}, "transform": [{"filter": {"field": "p", "equal": "Hurricanes"}}], "mark": {"type": "text", "fontSize": 9.5, "align": "left", "color": "#000000"}, "encoding": {"x": {"datum": 1.75, "axis": {"values": [-4, -2, 0, 2, 4], "title": null, "labelExpr": "toString(datum.value)"}}, "y": {"datum": -3.06, "axis": null}, "text": {"field": "r"}}},
    {"data": {"name": "stats"}, "transform": [{"filter": {"field": "p", "equal": "Hurricanes"}}], "mark": {"type": "text", "fontSize": 9.5, "align": "left", "color": "#000000"}, "encoding": {"x": {"datum": 1.75, "axis": {"values": [-4, -2, 0, 2, 4], "title": null, "labelExpr": "toString(datum.value)"}}, "y": {"datum": -3.91, "axis": null}, "text": {"field": "mae"}}}
   ]},
   {"width": 180, "height": 170, "layer": [
    {"data": {"name": "stats"}, "transform": [{"filter": {"field": "p", "equal": "Tornadoes"}}], "mark": {"type": "rect", "fill": "#d9d9d9", "stroke": "#333333", "strokeWidth": 1}, "encoding": {"x": {"datum": -4.42, "axis": {"values": [-4, -2, 0, 2, 4], "title": null, "labelExpr": "toString(datum.value)"}}, "x2": {"datum": 4.4}, "y": {"datum": 4.4, "axis": {"values": [-4, -2, 0, 2, 4], "title": null, "labelExpr": "toString(datum.value)"}}, "y2": {"datum": 5.97}}},
    {"data": {"name": "stats"}, "transform": [{"filter": {"field": "p", "equal": "Tornadoes"}}], "mark": {"type": "text", "fontSize": 12, "color": "#1a1a1a"}, "encoding": {"x": {"datum": -0.01, "axis": {"values": [-4, -2, 0, 2, 4], "title": null, "labelExpr": "toString(datum.value)"}}, "y": {"datum": 5.19, "axis": {"values": [-4, -2, 0, 2, 4], "title": null, "labelExpr": "toString(datum.value)"}}, "text": {"field": "p"}}},
    {"data": {"name": "pts"}, "transform": [{"filter": {"field": "p", "equal": "Tornadoes"}}], "mark": {"type": "circle", "size": 45, "color": "#000000", "opacity": 0.45}, "encoding": {"x": {"field": "x", "type": "quantitative", "scale": {"domain": [-4.42, 4.4], "nice": false, "zero": false}, "axis": {"values": [-4, -2, 0, 2, 4], "title": null, "labelExpr": "toString(datum.value)"}}, "y": {"field": "y", "type": "quantitative", "scale": {"domain": [-4.3, 5.97], "nice": false, "zero": false}, "axis": {"values": [-4, -2, 0, 2, 4], "title": null, "labelExpr": "toString(datum.value)"}}}},
    {"data": {"name": "diag"}, "mark": {"type": "line", "color": "#000000", "strokeDash": [5, 4], "strokeWidth": 1.1, "clip": true}, "encoding": {"x": {"field": "d", "type": "quantitative", "axis": {"values": [-4, -2, 0, 2, 4], "title": null, "labelExpr": "toString(datum.value)"}}, "y": {"field": "d", "type": "quantitative", "axis": {"values": [-4, -2, 0, 2, 4], "title": null, "labelExpr": "toString(datum.value)"}}}},
    {"data": {"name": "fits"}, "transform": [{"filter": {"field": "p", "equal": "Tornadoes"}}], "mark": {"type": "line", "color": "#3366FF", "strokeWidth": 3}, "encoding": {"x": {"field": "x", "type": "quantitative", "axis": {"values": [-4, -2, 0, 2, 4], "title": null, "labelExpr": "toString(datum.value)"}}, "y": {"field": "y", "type": "quantitative", "axis": {"values": [-4, -2, 0, 2, 4], "title": null, "labelExpr": "toString(datum.value)"}}}},
    {"data": {"name": "stats"}, "transform": [{"filter": {"field": "p", "equal": "Tornadoes"}}], "mark": {"type": "text", "fontSize": 9.5, "align": "left", "color": "#000000"}, "encoding": {"x": {"datum": 1.75, "axis": {"values": [-4, -2, 0, 2, 4], "title": null, "labelExpr": "toString(datum.value)"}}, "y": {"datum": -3.06, "axis": {"values": [-4, -2, 0, 2, 4], "title": null, "labelExpr": "toString(datum.value)"}}, "text": {"field": "r"}}},
    {"data": {"name": "stats"}, "transform": [{"filter": {"field": "p", "equal": "Tornadoes"}}], "mark": {"type": "text", "fontSize": 9.5, "align": "left", "color": "#000000"}, "encoding": {"x": {"datum": 1.75, "axis": {"values": [-4, -2, 0, 2, 4], "title": null, "labelExpr": "toString(datum.value)"}}, "y": {"datum": -3.91, "axis": {"values": [-4, -2, 0, 2, 4], "title": null, "labelExpr": "toString(datum.value)"}}, "text": {"field": "mae"}}}
   ]},
   {"width": 180, "height": 170, "layer": [
    {"data": {"name": "stats"}, "transform": [{"filter": {"field": "p", "equal": "Wildfires"}}], "mark": {"type": "rect", "fill": "#d9d9d9", "stroke": "#333333", "strokeWidth": 1}, "encoding": {"x": {"datum": -4.42, "axis": {"values": [-4, -2, 0, 2, 4], "title": "Exposure", "labelExpr": "toString(datum.value)"}}, "x2": {"datum": 4.4}, "y": {"datum": 4.4, "axis": null}, "y2": {"datum": 5.97}}},
    {"data": {"name": "stats"}, "transform": [{"filter": {"field": "p", "equal": "Wildfires"}}], "mark": {"type": "text", "fontSize": 12, "color": "#1a1a1a"}, "encoding": {"x": {"datum": -0.01, "axis": {"values": [-4, -2, 0, 2, 4], "title": "Exposure", "labelExpr": "toString(datum.value)"}}, "y": {"datum": 5.19, "axis": null}, "text": {"field": "p"}}},
    {"data": {"name": "pts"}, "transform": [{"filter": {"field": "p", "equal": "Wildfires"}}], "mark": {"type": "circle", "size": 45, "color": "#000000", "opacity": 0.45}, "encoding": {"x": {"field": "x", "type": "quantitative", "scale": {"domain": [-4.42, 4.4], "nice": false, "zero": false}, "axis": {"values": [-4, -2, 0, 2, 4], "title": "Exposure", "labelExpr": "toString(datum.value)"}}, "y": {"field": "y", "type": "quantitative", "scale": {"domain": [-4.3, 5.97], "nice": false, "zero": false}, "axis": null}}},
    {"data": {"name": "diag"}, "mark": {"type": "line", "color": "#000000", "strokeDash": [5, 4], "strokeWidth": 1.1, "clip": true}, "encoding": {"x": {"field": "d", "type": "quantitative", "axis": {"values": [-4, -2, 0, 2, 4], "title": "Exposure", "labelExpr": "toString(datum.value)"}}, "y": {"field": "d", "type": "quantitative", "axis": null}}},
    {"data": {"name": "fits"}, "transform": [{"filter": {"field": "p", "equal": "Wildfires"}}], "mark": {"type": "line", "color": "#3366FF", "strokeWidth": 3}, "encoding": {"x": {"field": "x", "type": "quantitative", "axis": {"values": [-4, -2, 0, 2, 4], "title": "Exposure", "labelExpr": "toString(datum.value)"}}, "y": {"field": "y", "type": "quantitative", "axis": null}}},
    {"data": {"name": "stats"}, "transform": [{"filter": {"field": "p", "equal": "Wildfires"}}], "mark": {"type": "text", "fontSize": 9.5, "align": "left", "color": "#000000"}, "encoding": {"x": {"datum": 1.75, "axis": {"values": [-4, -2, 0, 2, 4], "title": "Exposure", "labelExpr": "toString(datum.value)"}}, "y": {"datum": -3.06, "axis": null}, "text": {"field": "r"}}},
    {"data": {"name": "stats"}, "transform": [{"filter": {"field": "p", "equal": "Wildfires"}}], "mark": {"type": "text", "fontSize": 9.5, "align": "left", "color": "#000000"}, "encoding": {"x": {"datum": 1.75, "axis": {"values": [-4, -2, 0, 2, 4], "title": "Exposure", "labelExpr": "toString(datum.value)"}}, "y": {"datum": -3.91, "axis": null}, "text": {"field": "mae"}}}
   ]}
  ]
 },
 {
  "title": {"text": "(b)"},
  "spacing": 0,
  "bounds": "flush",
  "resolve": {"scale": {"x": "independent", "y": "independent"}},
  "vconcat": [
   {"width": 372, "height": 26, "data": {"name": "hazards"}, "transform": [{"filter": {"field": "hazard", "equal": "Extreme heat waves"}}], "view": {"stroke": null},
    "layer": [
     {"mark": {"type": "rect", "fill": "#d9d9d9", "stroke": "#333333", "strokeWidth": 1}, "encoding": {"y": {"datum": 0, "type": "quantitative", "scale": {"domain": [0, 26], "nice": false, "zero": false}, "axis": null}, "y2": {"datum": 26}}},
     {"mark": {"type": "text", "fontSize": 11.5, "color": "#1a1a1a"}, "encoding": {"y": {"datum": 13, "axis": null}, "text": {"field": "hazard"}}}
    ]},
   {"width": 372, "height": 236, "data": {"name": "bars"}, "transform": [{"filter": {"field": "hazard", "equal": "Extreme heat waves"}}], "view": {"stroke": null},
    "mark": {"type": "bar", "stroke": "#ffffff", "strokeWidth": 0.5},
    "encoding": {
     "y": {"field": "cwa", "type": "nominal", "sort": "-x", "scale": {"paddingInner": 0.1, "paddingOuter": 0.15}, "axis": {"title": "County Warning Area", "titleY": 252.7, "titlePadding": 6, "domain": true, "domainColor": "#333333", "labelFontSize": 15.5, "labelPadding": 3, "labelLimit": 320}},
     "x": {"field": "value", "type": "quantitative", "scale": {"domain": [-2.48, 4.25], "nice": false, "zero": false}, "axis": {"labels": false, "ticks": false, "domain": true, "domainColor": "#333333", "title": null}},
     "x2": {"datum": 0},
     "color": {"field": "value", "type": "quantitative", "scale": {"domain": [-2.17, 4.03], "range": ["#132B43", "#56B1F7"], "interpolate": "lab"}, "legend": null}
    }},
   {"width": 372, "height": 36, "data": {"name": "hazards"}, "transform": [{"filter": {"field": "hazard", "equal": "Floods"}}], "view": {"stroke": null},
    "layer": [
     {"mark": {"type": "rect", "fill": "#d9d9d9", "stroke": "#333333", "strokeWidth": 1}, "encoding": {"y": {"datum": 0, "type": "quantitative", "scale": {"domain": [0, 36], "nice": false, "zero": false}, "axis": null}, "y2": {"datum": 26}}},
     {"mark": {"type": "text", "fontSize": 11.5, "color": "#1a1a1a"}, "encoding": {"y": {"datum": 13, "axis": null}, "text": {"field": "hazard"}}}
    ]},
   {"width": 372, "height": 235, "data": {"name": "bars"}, "transform": [{"filter": {"field": "hazard", "equal": "Floods"}}], "view": {"stroke": null},
    "mark": {"type": "bar", "stroke": "#ffffff", "strokeWidth": 0.5},
    "encoding": {
     "y": {"field": "cwa", "type": "nominal", "sort": "-x", "scale": {"paddingInner": 0.1, "paddingOuter": 0.15}, "axis": {"title": null, "domain": true, "domainColor": "#333333", "labelFontSize": 15.5, "labelPadding": 3, "labelLimit": 320}},
     "x": {"field": "value", "type": "quantitative", "scale": {"domain": [-2.48, 4.25], "nice": false, "zero": false}, "axis": {"values": [-2, -1, 0, 1, 2, 3, 4], "labelExpr": "toString(datum.value)", "domain": true, "domainColor": "#333333", "title": "Risk Perception Estimate v. Exposure", "labelFontSize": 15, "labelPadding": 3}},
     "x2": {"datum": 0},
     "color": {"field": "value", "type": "quantitative", "scale": {"domain": [-2.17, 4.03], "range": ["#132B43", "#56B1F7"], "interpolate": "lab"}, "legend": null}
    }}
  ]
 }
]
}
